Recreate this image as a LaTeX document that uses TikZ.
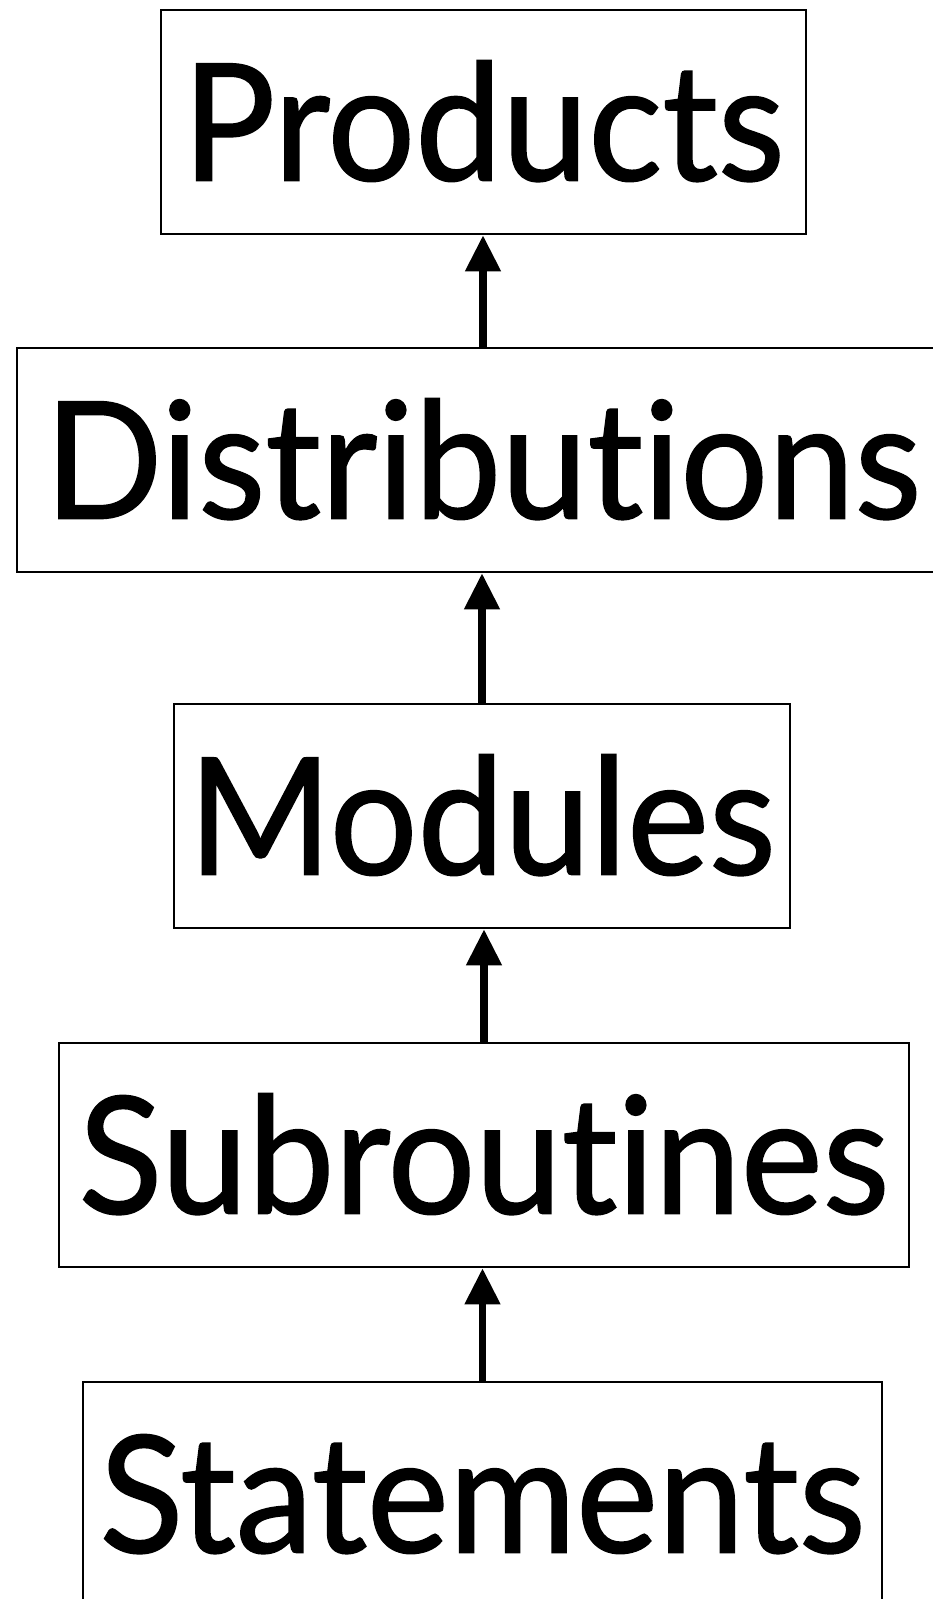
\documentclass[tikz,border=0pt]{standalone}
\usepackage{fontspec}
\setmainfont[Ligatures=NoCommon, FakeStretch=0.95, FakeBold=1]{Lato}
\usetikzlibrary{arrows.meta,positioning}
\tikzset{
  level/.style={draw, line width=2.5pt, minimum height=224pt, inner sep=0pt,
    text height=117pt, text depth=0pt, font=\fontsize{163}{163}\selectfont},
  up/.style={-{Triangle[width=34pt,length=36pt]}, line width=7.5pt},
}

\begin{document}
\begin{tikzpicture}[x=1pt,y=1pt]
\useasboundingbox (0,0) rectangle (933,-1599);
\node[level, minimum width=645pt] (products) at (483.5,-122) {Products};
\node[level, minimum width=932pt] (distributions) at (483,-460) {Distributions};
\node[level, minimum width=616pt] (modules) at (482,-816) {Modules};
\node[level, minimum width=850pt] (subroutines) at (484,-1155) {Subroutines};
\node[level, minimum width=799pt] (statements) at (482.5,-1494) {Statements};
% each level is built from the one below it
\draw[up] (distributions.north) -- (distributions.north |- products.south);
\draw[up] (modules.north) -- (modules.north |- distributions.south);
\draw[up] (subroutines.north) -- (subroutines.north |- modules.south);
\draw[up] (statements.north) -- (statements.north |- subroutines.south);
\end{tikzpicture}
\end{document}
